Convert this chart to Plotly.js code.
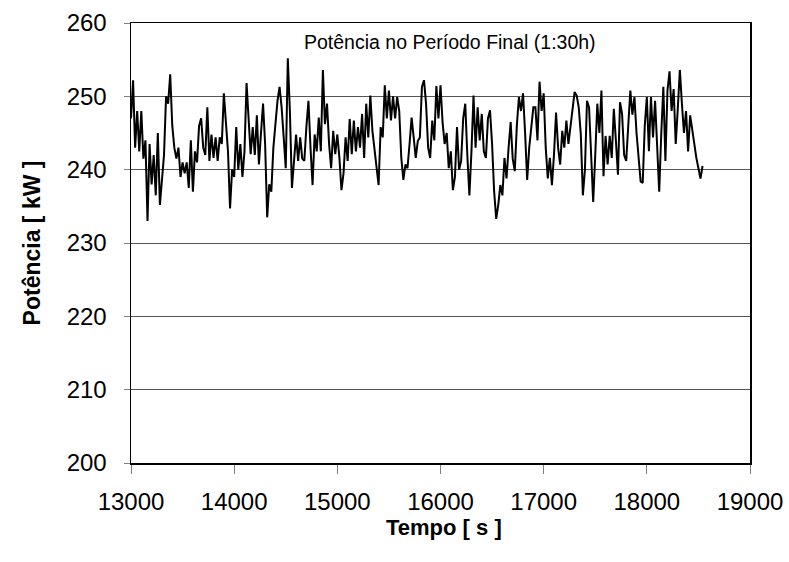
<!DOCTYPE html>
<html>
<head>
<meta charset="utf-8">
<script src="https://cdn.plot.ly/plotly-3.0.1.min.js"></script>
<style>html,body{margin:0;padding:0;background:#fff;}#chart{width:789px;height:562px;}</style>
</head>
<body>
<div id="chart"></div>
<script>
// Sampling of the series: start time and step, seconds
const startTime = 13000;
const timeStep = 20;

// Power values [kW], one every 20 s from 13000 s
const power1 = [247,252.2,243,248,242.5,248,241.5,244,233,243.5,238,242,236.5,245,235.2,238.5,242,250,249,253,246,243,241.5,243,239,241,239.5,241];
const power2 = [237.5,244,237,242.5,241,246,247,243,242,248.5,241.2,244.8,241.6,244.4,241.2,244.4,243.5,250.4,245.8,242.5,234.7,240,239,245.8,240,243.5,239,242.5];
const power3 = [251.8,246,242.1,245.8,242,247.4,240.7,245,249,243.5,233.5,238,237,243,246.7,249.4,251.3,248.5,244.4,240.2,255.2,248,237.5,240.7,244.8,241.2,244.4,241.5];
const power4 = [241.2,245.8,249.4,243,237.9,244.8,242.5,247.1,242.5,253.6,246.2,249,243.5,240.2,245.3,242.1,244.8,241.6,237.2,239.5,244.4,241.2,246.9,242.1,246.7,242.5,245.8,243];
const power5 = [247.6,241.6,249,244.4,250.1,245.3,242.5,240.7,237.9,245.8,244.4,251.5,247,250.8,246.7,250,247,249.9,248,241.6,238.6,240.7,240.2,243.5,247.1,244.4,241.6,243.9];
const power6 = [244.4,251.3,252.2,249,243,241.6,246.7,244,251.4,247,251.5,246.5,243.5,245,240.2,242.5,237.2,239,245.8,240,241.2,247,249,242,236.5,242.5,250.1,243];
const power7 = [248.5,244,247.6,242.5,241.6,247,248.1,243.5,237,233.3,235.2,237.9,236.5,241.6,238.8,243,246.5,241.5,239.8,246,249.9,248,250.4,245,238.6,243,246.2,248.5];
const power8 = [248.5,244,252,248,250.4,243,238.8,241.6,237.9,242,247.8,243,240.7,245.3,243,246.7,243.5,246,247.6,250.6,250.1,248.5,244.8,236.5,240,249.4,248.5,241];
const power9 = [235.6,242,249,245,250.8,239.1,244.6,240.7,244.6,241.6,248.3,244,239.3,249.2,247.6,242,241.2,246,250.8,247.5,249.9,245,241.6,238.4,238.2,246,249.9,242.5];
const power10 = [249.9,244.4,249.4,244,237,245,251.3,241.2,250.8,253.4,248,251,243.5,248.3,253.6,249,245,248,242.5,247.4,245.5,243,241.6,240.2,238.8,240.5];

const powerValues = [].concat(power1,power2,power3,power4,power5,power6,power7,power8,power9,power10);

// Axis ticks
const xTicks = [13000,14000,15000,16000,17000,18000,19000];
const yTicks = [200,210,220,230,240,250,260];

const chartTitle = 'Potência no Período Final (1:30h)';
const xTitle = 'Tempo [ s ]';
const yTitle = 'Potência [ kW ]';

const FONT = 'Liberation Sans, Arial, sans-serif';

const trace = {
  type: 'scatter',
  mode: 'lines',
  x0: startTime,
  dx: timeStep,
  y: powerValues,
  line: {color: '#000000', width: 2},
  hoverinfo: 'skip'
};

const layout = {
  width: 789,
  height: 562,
  margin: {l: 131, r: 39, t: 23, b: 99},
  paper_bgcolor: '#ffffff',
  plot_bgcolor: '#ffffff',
  showlegend: false,
  font: {family: FONT, color: '#000000'},
  xaxis: {
    range: [13000, 19000],
    tickvals: xTicks,
    ticktext: xTicks.map(String),
    ticks: 'outside',
    ticklen: 9,
    tickcolor: '#808080',
    tickwidth: 1,
    ticklabelstandoff: 8,
    showgrid: false,
    zeroline: false,
    showline: true,
    linecolor: '#000000',
    linewidth: 1.5,
    mirror: true,
    tickfont: {size: 24, family: FONT}
  },
  yaxis: {
    range: [200, 260],
    tickvals: yTicks,
    ticktext: yTicks.map(String),
    ticks: 'outside',
    ticklen: 6,
    tickcolor: '#808080',
    tickwidth: 1,
    ticklabelstandoff: 12,
    showgrid: true,
    gridcolor: '#555555',
    gridwidth: 1,
    zeroline: false,
    showline: true,
    linecolor: '#000000',
    linewidth: 1.5,
    mirror: true,
    tickfont: {size: 24, family: FONT},
    title: {text: yTitle, font: {size: 23, family: FONT, weight: 'bold'}, standoff: 19}
  },
  annotations: [{
    text: chartTitle,
    xref: 'paper', yref: 'paper',
    x: 0.515, y: 0.957,
    xanchor: 'center', yanchor: 'middle',
    showarrow: false,
    font: {size: 19.5, family: FONT, color: '#000000'}
  }, {
    text: xTitle,
    xref: 'paper', yref: 'paper',
    x: 0.505, y: -0.146,
    xanchor: 'center', yanchor: 'middle',
    showarrow: false,
    font: {size: 22, family: FONT, weight: 'bold', color: '#000000'}
  }]
};

Plotly.newPlot('chart', [trace], layout, {displayModeBar: false, staticPlot: true});
</script>
</body>
</html>
